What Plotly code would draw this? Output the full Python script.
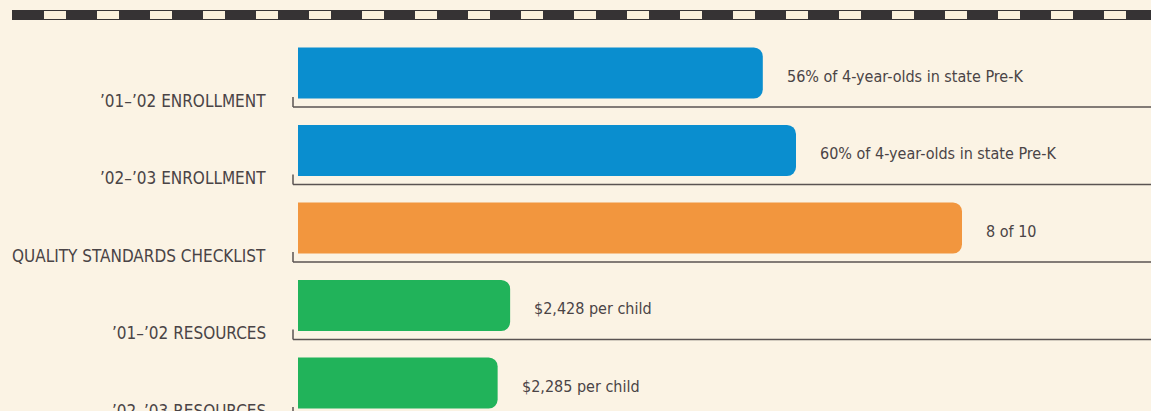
import plotly.graph_objects as go

# data
labels = ["’01–’02 ENROLLMENT", "’02–’03 ENROLLMENT", "QUALITY STANDARDS CHECKLIST",
          "’01–’02 RESOURCES", "’02–’03 RESOURCES"]
values = [56, 60, 8, 2428, 2285]
scale_max = [100, 100, 10, 9500, 9500]
value_text = ["56% of 4-year-olds in state Pre-K", "60% of 4-year-olds in state Pre-K",
              "8 of 10", "$2,428 per child", "$2,285 per child"]
colors = ["#0a8ecf", "#0a8ecf", "#f2963e", "#21b35a", "#21b35a"]

W, H = 1151, 411
BG = "#fbf3e4"
INK = "#4a4446"
FONT = "DejaVu Sans Condensed, Liberation Sans Narrow, sans-serif"

rows = list(range(len(labels)))
frac = [v / m for v, m in zip(values, scale_max)]

fig = go.Figure()
fig.add_trace(go.Bar(
    x=frac, y=rows, orientation="h", width=0.66,
    marker=dict(color=colors, line_width=0, cornerradius=9),
    hoverinfo="skip",
))

x0 = 298 / W
fig.update_layout(
    width=W, height=H, margin=dict(l=0, r=0, t=0, b=0),
    paper_bgcolor=BG, plot_bgcolor=BG, showlegend=False,
    font=dict(family=FONT, color=INK),
    xaxis=dict(domain=[x0, 1], range=[0, 853 / 830], visible=False),
    yaxis=dict(range=[4.361, -0.942], visible=False),
)

line_x0 = 293 / W
for i in rows:
    base = i + 0.44
    fig.add_shape(type="line", xref="paper", yref="y", x0=line_x0, x1=1, y0=base, y1=base,
                  line=dict(color="#5a5352", width=1.5))
    fig.add_shape(type="line", xref="paper", yref="y", x0=line_x0, x1=line_x0,
                  y0=base - 0.13, y1=base, line=dict(color="#5a5352", width=1.5))
    fig.add_annotation(x=268 / W, xref="paper", y=i + 0.36, yref="y", text=labels[i],
                       showarrow=False, xanchor="right", yanchor="middle",
                       font=dict(size=17, color=INK))
    fig.add_annotation(x=frac[i], y=i + 0.04, text=value_text[i], showarrow=False,
                       xanchor="left", yanchor="middle", xshift=22,
                       font=dict(size=16, color=INK))

# dashed border along the top
fig.add_shape(type="rect", xref="paper", yref="paper", x0=12 / W, x1=1, y0=1 - 10 / H, y1=1 - 20 / H,
              fillcolor="#363334", line_width=0)
fig.add_shape(type="line", xref="paper", yref="paper", x0=44 / W, x1=1, y0=1 - 15 / H, y1=1 - 15 / H,
              line=dict(color="#fbf1dc", width=8, dash="22px,31px"))

fig.write_html("out.html", config={"displayModeBar": False},
               post_script="document.body.style.margin='0';document.body.style.background='%s';" % BG)
